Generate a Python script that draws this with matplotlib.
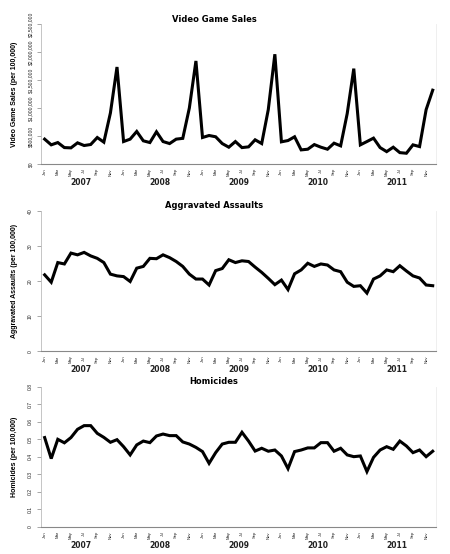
import matplotlib
matplotlib.use('Agg')
import matplotlib.pyplot as plt
import numpy as np
from matplotlib.ticker import FuncFormatter

# data, monthly Jan 2007 .. Dec 2011
years = ['2007', '2008', '2009', '2010', '2011']
month_labels = ['Jan', 'Mar', 'May', 'Jul', 'Sep', 'Nov']

video_sales = [444, 342, 383, 293, 288, 378, 330, 348, 473, 390, 912, 1732,
               401, 444, 581, 414, 383, 575, 401, 365, 444, 458, 1000, 1840,
               473, 509, 486, 365, 300, 401, 293, 306, 432, 365, 971, 1960,
               396, 419, 486, 252, 264, 347, 300, 264, 372, 324, 900, 1703,
               342, 401, 462, 293, 221, 300, 203, 192, 342, 311, 971, 1318]
video_sales = [v * 1000 for v in video_sales]

assaults = [21.8, 19.7, 25.3, 24.9, 28.0, 27.5, 28.2, 27.2, 26.5, 25.3, 22.0, 21.5,
            21.3, 19.9, 23.7, 24.2, 26.5, 26.4, 27.5, 26.7, 25.6, 24.2, 22.0, 20.6,
            20.6, 18.9, 23.0, 23.6, 26.1, 25.3, 25.8, 25.6, 24.0, 22.5, 20.8, 19.0,
            20.3, 17.6, 22.1, 23.2, 25.1, 24.2, 24.9, 24.6, 23.2, 22.7, 19.7, 18.5,
            18.7, 16.6, 20.6, 21.5, 23.2, 22.7, 24.4, 22.9, 21.5, 20.9, 18.9, 18.7]

homicides = [0.51, 0.39, 0.50, 0.48, 0.51, 0.557, 0.578, 0.578, 0.534, 0.511, 0.483, 0.498,
             0.458, 0.411, 0.468, 0.490, 0.481, 0.519, 0.530, 0.521, 0.521, 0.485, 0.473, 0.454,
             0.430, 0.363, 0.424, 0.473, 0.483, 0.483, 0.540, 0.490, 0.433, 0.449, 0.432, 0.439,
             0.405, 0.333, 0.430, 0.439, 0.451, 0.451, 0.481, 0.481, 0.432, 0.449, 0.411, 0.401,
             0.405, 0.316, 0.397, 0.439, 0.458, 0.443, 0.490, 0.462, 0.424, 0.439, 0.401, 0.432]

narrow = 'Liberation Sans'

W, H = 450, 554
fig = plt.figure(figsize=(W / 100, H / 100), dpi=100)


def panel(top_px, bottom_px, series, ylim, yticks, fmt, title, ylabel):
    ax = fig.add_axes([40.7 / W, (H - bottom_px) / H, 395.3 / W, (bottom_px - top_px) / H])
    x = np.arange(len(series))
    ax.plot(x, series, color='black', lw=2.2, solid_joinstyle='miter')
    ax.set_xlim(-0.6, 59.5)
    ax.set_ylim(*ylim)
    ax.set_yticks(yticks)
    ax.yaxis.set_major_formatter(FuncFormatter(fmt))
    for lab in ax.get_yticklabels():
        lab.set_rotation(90)
        lab.set_va('center')
        lab.set_family(narrow)
    ax.tick_params(axis='y', labelsize=3.6, length=3, width=0.6, color='#999999',
                   labelcolor='#222222', pad=2.5)
    # month labels every other month
    ax.set_xticks(x[::2])
    ax.set_xticklabels(month_labels * len(years), rotation=90, fontsize=3.0,
                       family=narrow, color='#222222')
    ax.tick_params(axis='x', length=0, pad=3)
    for k, yr in enumerate(years):
        ax.annotate(yr, xy=(12 * k + 5.5, 0), xycoords=('data', 'axes fraction'),
                    xytext=(0, -13), textcoords='offset points', ha='center', va='center',
                    fontsize=5.5, fontweight='bold', color='#222222')
    ax.spines['top'].set_visible(False)
    ax.spines['right'].set_color('#ececec')
    ax.spines['right'].set_linewidth(0.6)
    ax.spines['left'].set_color('#bbbbbb')
    ax.spines['left'].set_linewidth(0.6)
    ax.spines['bottom'].set_color('#888888')
    ax.spines['bottom'].set_linewidth(0.8)
    ax.set_ylabel(ylabel, family=narrow, fontsize=5.0, fontweight='bold', labelpad=7)
    fig.text(214 / W, (H - top_px + 5) / H, title, ha='center', va='center',
             fontsize=6, fontweight='heavy')
    return ax


panel(24, 164, video_sales, (0, 2500000), np.arange(0, 2500001, 500000),
      lambda v, p: '${:,.0f}'.format(v), 'Video Game Sales',
      'Video Game Sales (per 100,000)')
panel(211, 351.3, assaults, (0, 40), np.arange(0, 41, 10),
      lambda v, p: '{:.0f}'.format(v), 'Aggravated Assaults',
      'Aggravated Assaults (per 100,000)')
panel(386.7, 527, homicides, (0, 0.8), np.arange(0, 0.81, 0.1),
      lambda v, p: '0' if v == 0 else '{:.1f}'.format(v), 'Homicides',
      'Homicides (per 100,000)')

fig.savefig('out.png', dpi=100)
